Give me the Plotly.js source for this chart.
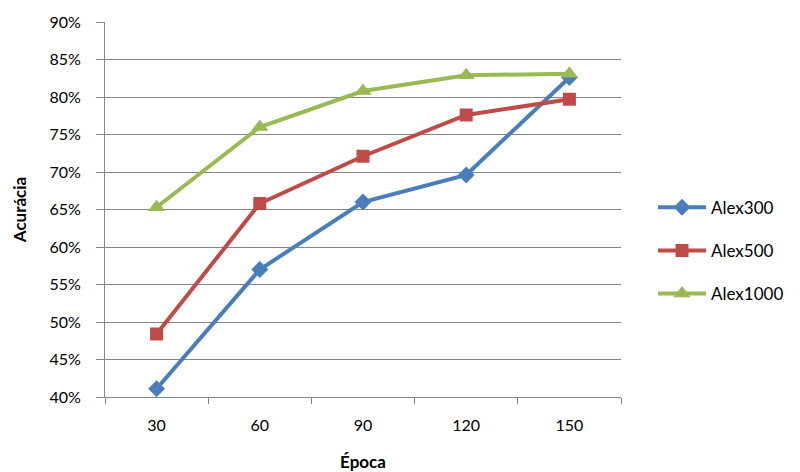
<!DOCTYPE html>
<html>
<head>
<meta charset="utf-8">
<script src="https://cdn.plot.ly/plotly-3.0.1.min.js"></script>
<style>html,body{margin:0;padding:0;background:#fff;}#chart{width:800px;height:472px;}</style>
</head>
<body>
<div id="chart"></div>
<script>
const epochs = ['30', '60', '90', '120', '150'];
const alex300 = [0.411, 0.570, 0.660, 0.696, 0.826];
const alex500 = [0.484, 0.658, 0.721, 0.776, 0.797];
const alex1000 = [0.653, 0.760, 0.808, 0.829, 0.831];
const seriesNames = ['Alex300', 'Alex500', 'Alex1000'];

const font = 'Lato, "Liberation Sans", Arial, sans-serif';
const traces = [
  {x: epochs, y: alex300, name: seriesNames[0], mode: 'lines+markers', legendgroup: 'a',
   line: {color: '#4a7ebb', width: 4}, marker: {symbol: 'diamond', size: 13, color: '#4a7ebb'}},
  {x: epochs, y: alex500, name: seriesNames[1], mode: 'lines+markers', legendgroup: 'b',
   line: {color: '#be4b48', width: 4}, marker: {symbol: 'square', size: 13, color: '#be4b48'}},
  {x: epochs, y: alex1000, name: seriesNames[2], mode: 'lines+markers', legendgroup: 'c',
   line: {color: '#98b954', width: 4}, marker: {symbol: 'triangle-up', size: 15, color: '#98b954'}}
];

const layout = {
  width: 800, height: 472,
  margin: {l: 105, r: 178, t: 22, b: 75},
  paper_bgcolor: '#fff', plot_bgcolor: '#fff',
  font: {family: font, size: 16, color: '#000'},
  showlegend: true,
  legend: {x: 1.06, y: 0.39, xanchor: 'left', yanchor: 'middle', traceorder: 'grouped',
           tracegroupgap: 18, font: {size: 17, color: '#000'}, itemwidth: 48},
  xaxis: {
    type: 'category', range: [-0.5, 4.5], automargin: false,
    showline: true, linecolor: '#868686', linewidth: 1,
    ticks: 'outside', tickson: 'boundaries', ticklen: 6, tickcolor: '#868686',
    showgrid: false, zeroline: false, ticklabelstandoff: 14,
    tickfont: {size: 16, color: '#000'},
    title: {text: '<b>Época</b>', font: {size: 17, color: '#000'}, standoff: 24}
  },
  yaxis: {
    range: [0.4, 0.9], dtick: 0.05, tickformat: '.0%', automargin: false,
    showline: true, linecolor: '#868686', linewidth: 1,
    ticks: 'outside', ticklen: 8, tickcolor: '#868686',
    showgrid: true, gridcolor: '#868686', gridwidth: 1, zeroline: false,
    ticklabelstandoff: 12,
    tickfont: {size: 16, color: '#000'},
    title: {text: '<b>Acurácia</b>', font: {size: 17, color: '#000'}, standoff: 18}
  }
};

Plotly.newPlot('chart', traces, layout, {displayModeBar: false, staticPlot: true});
</script>
</body>
</html>
